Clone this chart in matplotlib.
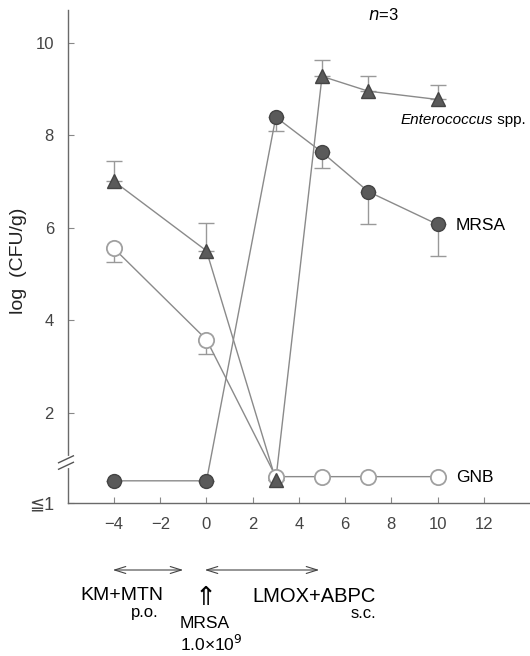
import matplotlib
matplotlib.use("Agg")
import matplotlib.pyplot as plt
import numpy as np

plt.rcParams['font.family'] = ['Liberation Sans', 'DejaVu Sans']

# Data (log CFU/g); values at ~0.5 represent "<=1" (below detection)
days = [-4, 0, 3, 5, 7, 10]
entero = [7.0, 5.5, 0.55, 9.27, 8.95, 8.77]
entero_err_up = [0.43, 0.6, 0.0, 0.35, 0.32, 0.31]
mrsa = [0.53, 0.53, 8.39, 7.63, 6.78, 6.07]
mrsa_err_dn = [0.0, 0.0, 0.31, 0.33, 0.71, 0.69]
gnb = [5.55, 3.58, 0.62, 0.62, 0.62, 0.62]
gnb_err_dn = [0.3, 0.3, 0.0, 0.0, 0.0, 0.0]

xticks = [-4, -2, 0, 2, 4, 6, 8, 10, 12]
xticklabels = ['−4', '−2', '0', '2', '4', '6', '8', '10', '12']
yticks = [2, 4, 6, 8, 10]

fig = plt.figure(figsize=(5.30, 6.56), dpi=100)
ax = fig.add_axes([0.128, 0.2332, 0.872, 0.752])
ax.set_xlim(-6, 14)
ax.set_ylim(0.05, 10.71)

line_c = '#8a8a8a'
fill_c = '#5a5a5a'
edge_c = '#444444'

def ebar(x, y, lo, hi):
    ax.errorbar(x, y, yerr=[lo, hi], fmt='none', ecolor='#999999',
                elinewidth=1.0, capsize=6, capthick=1.0, zorder=2)

ebar(days, entero, [0]*6, entero_err_up)
ebar(days, mrsa, mrsa_err_dn, [0]*6)
ebar(days, gnb, gnb_err_dn, [0]*6)

ax.plot(days, gnb, '-', color=line_c, lw=1.0, zorder=3)
ax.plot(days, gnb, 'o', ms=11, mfc='white', mec='#a0a0a0', mew=1.3, zorder=4)
ax.plot(days, mrsa, '-', color=line_c, lw=1.0, zorder=3)
ax.plot(days, mrsa, 'o', ms=10, mfc=fill_c, mec=edge_c, mew=1.0, zorder=5)
ax.plot(days, entero, '-', color=line_c, lw=1.0, zorder=3)
ax.plot(days, entero, '^', ms=10, mfc=fill_c, mec=edge_c, mew=1.0, zorder=6)

for s in ['top', 'right']:
    ax.spines[s].set_visible(False)
for s in ['left', 'bottom']:
    ax.spines[s].set_color('#6a6a6a')
    ax.spines[s].set_linewidth(1.0)

ax.set_xticks(xticks)
ax.set_xticklabels(xticklabels)
ax.set_yticks([0.05] + yticks)
ax.set_yticklabels(['≦1'] + [str(v) for v in yticks])
ax.tick_params(direction='in', length=4, color='#888888', labelsize=12,
               labelcolor='#444444')
ax.tick_params(axis='y', pad=10)
ax.tick_params(axis='x', pad=10)
ax.get_yticklabels()[0].set_fontsize(13)
ax.set_ylabel('log  (CFU/g)', fontsize=14, color='#222222')
ax.yaxis.set_label_coords(-0.088, 0.49)

# axis break
trans = ax.get_yaxis_transform()
ax.plot([0, 0], [0.84, 1.02], color='white', lw=3, transform=trans, clip_on=False, zorder=7)
ax.plot([-0.02, 0.012], [0.78, 0.93], color='#555555', lw=1.0, transform=trans, clip_on=False, zorder=8)
ax.plot([-0.02, 0.012], [0.92, 1.07], color='#555555', lw=1.0, transform=trans, clip_on=False, zorder=8)

# labels
fig.text(0.694, 0.977, r'$n$=3', fontsize=12, ha='left', va='center')
t = ax.text(8.4, 8.32, 'Enterococcus', style='italic', fontsize=11, ha='left', va='center')
ax.annotate(' spp.', xy=(1, 0.5), xycoords=t, fontsize=11, ha='left', va='center')
ax.text(10.8, 6.05, 'MRSA', fontsize=12.5, ha='left', va='center')
ax.text(10.8, 0.6, 'GNB', fontsize=12.5, ha='left', va='center')

def fx(px):
    return px / 530.0
def fy(py):
    return 1 - py / 656.0

for a, b in [(110, 186), (202, 322)]:
    fig.patches.append(matplotlib.patches.FancyArrowPatch(
        (fx(a), fy(570)), (fx(b), fy(570)), transform=fig.transFigure,
        arrowstyle='<->,head_length=8,head_width=2.5', color='#444444', lw=0.8))
fig.text(fx(122), fy(596), 'KM+MTN', fontsize=14, ha='center', va='center')
fig.text(fx(145), fy(613), 'p.o.', fontsize=12, ha='center', va='center')
fig.text(fx(314), fy(596), 'LMOX+ABPC', fontsize=14.5, ha='center', va='center')
fig.text(fx(363), fy(613), 's.c.', fontsize=12, ha='center', va='center')
fig.text(fx(206), fy(598), '⇑', fontsize=19, ha='center', va='center', family=['DejaVu Sans'])
fig.text(fx(180), fy(624), 'MRSA', fontsize=12.5, ha='left', va='center')
fig.text(fx(180), fy(644), '1.0×10$^{9}$', fontsize=12.5, ha='left', va='center')

fig.savefig('out.png', dpi=100)
